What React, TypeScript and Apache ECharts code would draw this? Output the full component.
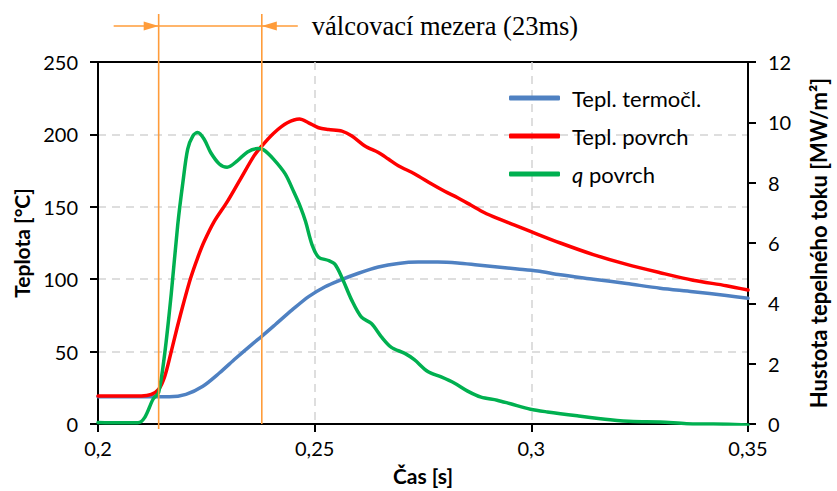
import React, { useEffect, useRef } from "react";
import * as echarts from "echarts";

const tTermo = [0.2, 0.205, 0.21, 0.214, 0.2165, 0.2203, 0.2242, 0.228, 0.2318, 0.2356, 0.2379, 0.241, 0.2448, 0.2486, 0.2524, 0.2555, 0.2601, 0.2647, 0.2693, 0.2739, 0.2784, 0.283, 0.2876, 0.2922, 0.2968, 0.3014, 0.3067, 0.3143, 0.322, 0.3297, 0.3373, 0.345, 0.35];
const vTermo = [18.8, 18.8, 18.8, 18.8, 18.8, 20.5, 26.1, 35.2, 45.4, 55.2, 60.9, 68.9, 78.8, 88, 94.8, 98.9, 104.1, 108.4, 110.9, 111.8, 111.8, 111.2, 109.8, 108.4, 107.1, 105.7, 103, 100, 97, 93.8, 91.4, 88.7, 86.8];

const tPovrch = [0.2, 0.205, 0.21, 0.2123, 0.214, 0.2154, 0.2168, 0.2183, 0.2199, 0.2214, 0.223, 0.2245, 0.2268, 0.2298, 0.2329, 0.236, 0.2378, 0.2406, 0.2437, 0.2465, 0.2486, 0.2509, 0.2532, 0.2563, 0.2586, 0.2616, 0.2647, 0.267, 0.2693, 0.2731, 0.2769, 0.28, 0.283, 0.2861, 0.2891, 0.2922, 0.296, 0.2998, 0.3067, 0.3143, 0.322, 0.3297, 0.3373, 0.345, 0.35];
const vPovrch = [19.4, 19.4, 19.4, 20.4, 23.9, 32.9, 48.8, 67, 85.2, 101, 114.8, 126, 139.8, 153.4, 169.3, 185.2, 192, 201, 208, 210.6, 208, 204.6, 203.4, 202.3, 198.9, 192, 187.5, 183, 178.4, 172.7, 165.9, 160.7, 156.2, 151.1, 146.1, 142, 137.5, 133, 125, 117, 110.2, 104.5, 99.3, 95.5, 92.5];

const tQ = [0.2, 0.205, 0.2092, 0.2108, 0.2127, 0.214, 0.2154, 0.2169, 0.2184, 0.2196, 0.2207, 0.2219, 0.223, 0.2245, 0.226, 0.228, 0.2298, 0.2322, 0.2345, 0.2368, 0.2382, 0.2405, 0.2432, 0.2452, 0.2467, 0.2479, 0.2494, 0.2509, 0.2532, 0.2547, 0.2563, 0.2586, 0.2608, 0.2631, 0.2654, 0.2677, 0.2708, 0.273, 0.2761, 0.2792, 0.2822, 0.2853, 0.2884, 0.2921, 0.2952, 0.2998, 0.3037, 0.3106, 0.3182, 0.3235, 0.3297, 0.3358, 0.342, 0.35];
const vQ = [0.05, 0.04, 0.04, 0.22, 0.82, 1.05, 2.34, 4.31, 6.6, 8.02, 9.11, 9.55, 9.66, 9.44, 9.0, 8.62, 8.51, 8.73, 9.02, 9.13, 9.09, 8.78, 8.29, 7.69, 7.2, 6.71, 5.94, 5.53, 5.42, 5.29, 4.85, 4.09, 3.54, 3.33, 2.89, 2.54, 2.34, 2.13, 1.74, 1.56, 1.36, 1.09, 0.89, 0.79, 0.67, 0.49, 0.4, 0.27, 0.14, 0.08, 0.07, 0.01, 0.0, -0.03];

const gapStart = 0.214;
const gapEnd = 0.2378;
const gapLabel = "válcovací mezera (23ms)";

const seriesNames = ["Tepl. termočl.", "Tepl. povrch", "q povrch"];
const seriesColors = ["#4F81C2", "#FF0000", "#00B050"];

const zip = (t: number[], v: number[]) => t.map((x, i) => [x, v[i]]);

const FONT = "Lato";
const ORANGE = "#FF9C3A";

export default function App() {
  const ref = useRef<HTMLDivElement>(null);
  useEffect(() => {
    document.body.style.margin = "0";
    const chart = echarts.init(ref.current!, null, { renderer: "svg" });
    const lineStyle = (c: string) => ({ color: c, width: 3.5, cap: "round", join: "round" });
    const split = { show: true, showMinLine: false, showMaxLine: false, lineStyle: { color: "#D4D4D4", type: [8, 6], width: 1.5 } };
    chart.setOption({
      animation: false,
      backgroundColor: "#fff",
      grid: {
        left: 98,
        right: 85,
        top: 62,
        bottom: 63,
        show: true,
        borderColor: "#000",
        borderWidth: 2,
        backgroundColor: "transparent",
      },
      legend: {
        orient: "vertical",
        left: 509,
        top: 85,
        padding: 0,
        itemWidth: 51,
        itemHeight: 5,
        itemGap: 12,
        icon: "roundRect",
        data: seriesNames,
        formatter: (n: string) => (n === "q povrch" ? "{i|q} povrch" : n),
        textStyle: {
          fontFamily: FONT,
          fontSize: 22,
          color: "#000",
          lineHeight: 26,
          padding: [0, 0, 0, 7],
          rich: { i: { fontStyle: "italic", fontFamily: FONT, fontSize: 22, color: "#000" } },
        },
      },
      xAxis: {
        type: "value",
        min: 0.2,
        max: 0.35,
        interval: 0.05,
        name: "Čas [s]",
        nameLocation: "middle",
        nameGap: 41,
        nameTextStyle: { fontFamily: FONT, fontSize: 21, fontWeight: "bold", color: "#000" },
        axisLine: { show: true, lineStyle: { color: "#000", width: 2 } },
        axisTick: { show: true, inside: false, length: 8, lineStyle: { color: "#000", width: 2 } },
        axisLabel: {
          margin: 14,
          fontFamily: FONT,
          fontSize: 20,
          color: "#000",
          formatter: (v: number) => String(Math.round(v * 100) / 100).replace(".", ","),
        },
        splitLine: split,
      },
      yAxis: [
        {
          type: "value",
          min: 0,
          max: 250,
          interval: 50,
          position: "left",
          name: "Teplota [°C]",
          nameLocation: "middle",
          nameGap: 66,
          nameTextStyle: { fontFamily: FONT, fontSize: 21, fontWeight: "bold", color: "#000" },
          axisLine: { show: true, lineStyle: { color: "#000", width: 2 } },
          axisTick: { show: true, inside: false, length: 8, lineStyle: { color: "#000", width: 2 } },
          axisLabel: { margin: 20, fontFamily: FONT, fontSize: 20, color: "#000" },
          splitLine: split,
        },
        {
          type: "value",
          min: 0,
          max: 12,
          interval: 2,
          position: "right",
          name: "Hustota tepelného toku [MW/m²]",
          nameLocation: "middle",
          nameGap: 59,
          nameTextStyle: { fontFamily: FONT, fontSize: 22, fontWeight: "bold", color: "#000" },
          axisLine: { show: true, lineStyle: { color: "#000", width: 2 } },
          axisTick: { show: true, inside: false, length: 8, lineStyle: { color: "#000", width: 2 } },
          axisLabel: { margin: 20, fontFamily: FONT, fontSize: 20, color: "#000" },
          splitLine: { show: false },
        },
      ],
      series: [
        {
          name: seriesNames[0],
          type: "line",
          yAxisIndex: 0,
          data: zip(tTermo, vTermo),
          showSymbol: false,
          symbol: "none",
          smooth: 0.3,
          color: seriesColors[0],
          lineStyle: lineStyle(seriesColors[0]),
          z: 3,
        },
        {
          name: seriesNames[1],
          type: "line",
          yAxisIndex: 0,
          data: zip(tPovrch, vPovrch),
          showSymbol: false,
          symbol: "none",
          smooth: 0.3,
          color: seriesColors[1],
          lineStyle: lineStyle(seriesColors[1]),
          z: 3,
        },
        {
          name: seriesNames[2],
          type: "line",
          yAxisIndex: 1,
          data: zip(tQ, vQ),
          showSymbol: false,
          symbol: "none",
          smooth: 0.3,
          color: seriesColors[2],
          lineStyle: lineStyle(seriesColors[2]),
          z: 3,
        },
      ],
    });

    const p1 = chart.convertToPixel({ gridIndex: 0 }, [gapStart, 0]) as number[];
    const p2 = chart.convertToPixel({ gridIndex: 0 }, [gapEnd, 0]) as number[];
    const x1 = p1[0];
    const x2 = p2[0];
    const yBase = p1[1];
    const yA = 26;
    const topY = 14;
    const os = { stroke: ORANGE, lineWidth: 1.6 };
    chart.setOption({
      graphic: [
        { type: "line", z: 10, shape: { x1, y1: topY, x2: x1, y2: yBase + 5 }, style: os },
        { type: "line", z: 10, shape: { x1: x2, y1: topY, x2, y2: yBase }, style: os },
        { type: "line", z: 10, shape: { x1: x1 - 45, y1: yA, x2: x2 + 36, y2: yA }, style: os },
        {
          type: "polygon",
          z: 10,
          shape: { points: [[x1 - 15, yA - 4.5], [x1, yA], [x1 - 15, yA + 4.5]] },
          style: { fill: ORANGE },
        },
        {
          type: "polygon",
          z: 10,
          shape: { points: [[x2 + 15, yA - 4.5], [x2, yA], [x2 + 15, yA + 4.5]] },
          style: { fill: ORANGE },
        },
        {
          type: "text",
          z: 10,
          x: x2 + 50,
          y: yA,
          style: {
            text: gapLabel,
            fontFamily: "Liberation Serif",
            fontSize: 26.5,
            fill: "#000",
            verticalAlign: "middle",
            align: "left",
          },
        },
      ],
    });
    return () => chart.dispose();
  }, []);
  return <div ref={ref} style={{ width: 837, height: 491 }} />;
}
